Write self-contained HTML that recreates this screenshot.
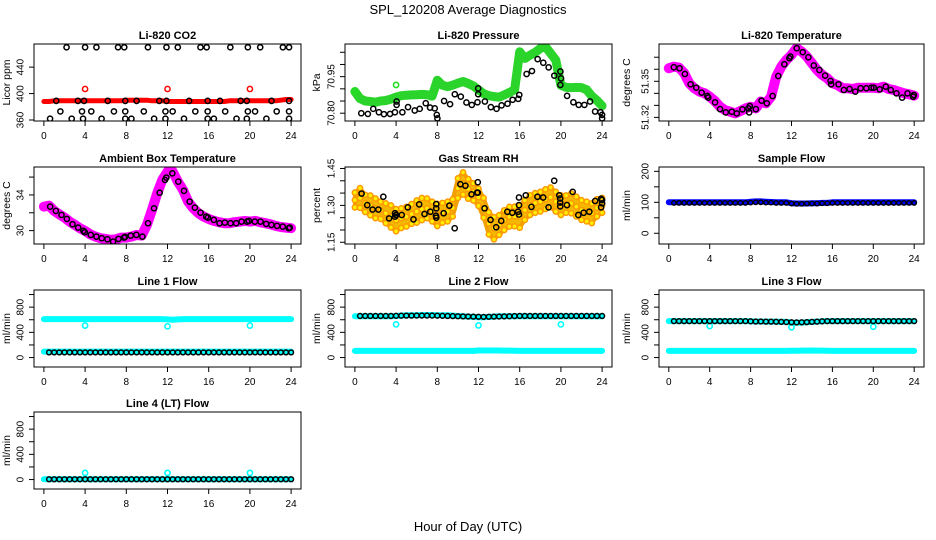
<!DOCTYPE html>
<html><head><meta charset="utf-8"><style>
html,body{margin:0;padding:0;background:#fff;width:936px;height:540px;overflow:hidden}
svg{display:block;font-family:"Liberation Sans",Arial,sans-serif}
</style></head><body>
<svg id="chart" width="936" height="540" viewBox="0 0 936 540">
<text x="468" y="14" text-anchor="middle" font-size="13">SPL_120208  Average Diagnostics</text>
<text x="468" y="531" text-anchor="middle" font-size="13">Hour of Day (UTC)</text>
</svg>
<script>
// ---------- shared categories ----------
const halfHours=[0,0.5,1,1.5,2,2.5,3,3.5,4,4.5,5,5.5,6,6.5,7,7.5,8,8.5,9,9.5,10,10.5,11,11.5,12,12.5,13,13.5,14,14.5,15,15.5,16,16.5,17,17.5,18,18.5,19,19.5,20,20.5,21,21.5,22,22.5,23,23.5,24];
const xTicks=[0,4,8,12,16,20,24];
const outlierHours=[4,12,20];
// ---------- CO2 ----------
const co2Red=[388,388,389,389,389,389,389,389,389,389,389,389,389,389,389,389,390,390,390,390,390,389,389,389,388,388,388,388,388,388,388,388,388,388,388,388,389,389,389,389,389,389,389,389,389,389,390,391,391];
const co2RedOut=[407,407,407];
const co2BlackHour=[2.2,4.0,5.1,7.2,7.8,10.1,11.9,13.0,15.2,15.8,18.1,19.8,21.0,23.2,23.8, 1.2,3.3,3.9,6.2,7.9,9.0,11.2,11.9,14.1,15.9,17.1,19.1,19.7,22.1,23.8, 1.6,3.7,4.6,6.8,7.9,9.7,11.8,12.5,14.7,15.9,17.6,19.8,20.5,22.6,23.8, 0.6,2.7,3.8,5.6,7.9,8.5,10.7,11.8,13.6,15.9,16.5,18.7,19.7,21.6,23.8];
const co2BlackVal=[470,470,470,470,470,470,470,470,470,470,470,470,470,470,470, 389,389,389,389,389,389,389,389,389,389,389,389,389,389,389, 373,373,373,373,373,373,373,373,373,373,373,373,373,373,373, 362,362,362,362,362,362,362,362,362,362,362,362,362,362,362];
// ---------- Pressure ----------
const presGreen=[70.889,70.860,70.850,70.848,70.845,70.850,70.852,70.858,70.866,70.872,70.874,70.875,70.876,70.877,70.876,70.870,70.935,70.915,70.909,70.915,70.923,70.930,70.922,70.912,70.896,70.880,70.872,70.868,70.866,70.875,70.885,70.896,71.052,71.025,71.038,71.050,71.066,71.073,71.046,71.018,70.915,70.906,70.905,70.906,70.905,70.896,70.870,70.852,70.830];
const presGreenOut=[70.916];
const presBlackHour=[0.62,1.26,1.78,2.33,2.82,3.41,3.89,4.05,4.05,4.61,5.16,5.81,6.29,6.88,7.30,7.75,7.95,8.01,8.66,9.24,9.70,10.28,10.83,11.35,11.90,11.97,11.97,12.62,13.20,13.75,14.24,14.82,15.31,15.86,15.96,16.67,17.19,17.74,18.29,18.81,19.36,19.95,19.95,20.01,20.60,21.21,21.73,22.28,22.83,23.32,23.84,24.0,24.0];
const presBlackVal=[70.800,70.797,70.818,70.804,70.796,70.797,70.804,70.834,70.848,70.804,70.825,70.811,70.818,70.841,70.823,70.820,70.793,70.779,70.850,70.837,70.878,70.868,70.844,70.834,70.845,70.878,70.902,70.848,70.825,70.818,70.832,70.839,70.855,70.859,70.875,70.961,70.973,71.022,71.007,70.988,70.954,70.971,70.916,70.943,70.871,70.845,70.834,70.834,70.848,70.807,70.804,70.779,70.793];
// ---------- Li-820 temperature ----------
const tempMag=[51.3608,51.3622,51.3614,51.3567,51.3483,51.3442,51.3414,51.3400,51.3372,51.3336,51.3289,51.3261,51.3247,51.3233,51.3253,51.3275,51.3289,51.3275,51.3331,51.3317,51.3372,51.3539,51.3622,51.3678,51.3719,51.3775,51.3747,51.3706,51.3650,51.3594,51.3553,51.3525,51.3483,51.3469,51.3442,51.3442,51.3436,51.3447,51.3447,51.3447,51.3447,51.3442,51.3456,51.3436,51.3428,51.3414,51.3400,51.3392,51.3381];
const tempBlackHour=[0.49,1.05,1.57,2.13,2.68,3.21,3.77,3.86,4.52,5.01,5.57,6.16,6.65,7.20,7.79,7.86,7.92,8.51,9.07,9.59,10.15,10.71,11.30,11.79,11.89,12.51,13.10,13.65,14.18,14.73,15.29,15.82,15.88,16.60,17.12,17.68,18.24,18.76,19.32,19.81,20.04,20.63,21.22,21.71,22.27,22.82,23.35,23.90,23.97];
const tempBlackVal=[51.3617,51.3608,51.3561,51.3475,51.3447,51.3406,51.3378,51.3364,51.3325,51.3269,51.3242,51.3247,51.3233,51.3267,51.3275,51.3242,51.3294,51.3269,51.3339,51.3317,51.3378,51.3544,51.3642,51.3692,51.3706,51.3775,51.3742,51.3700,51.3631,51.3594,51.3547,51.3503,51.3475,51.3475,51.3428,51.3436,51.3414,51.3442,51.3442,51.3447,51.3447,51.3433,51.3456,51.3428,51.3400,51.3364,51.3400,51.3372,51.3386];
// ---------- Ambient box temperature ----------
const ambMag=[32.69,32.80,32.21,31.83,31.46,31.01,30.64,30.27,29.97,29.59,29.33,29.15,29.07,28.96,29.03,29.22,29.22,29.33,29.52,29.44,30.64,32.32,34.18,35.68,36.61,36.61,35.49,34.56,33.25,32.50,31.95,31.57,31.31,31.09,30.94,30.83,30.83,30.94,31.01,31.09,31.01,31.09,30.94,30.83,30.71,30.53,30.41,30.34,30.27];
const ambBlackHour=[0.61,1.16,1.71,2.23,2.78,3.33,3.84,3.97,4.55,5.10,5.62,6.17,6.72,7.24,7.78,7.88,8.43,8.98,9.56,10.11,10.69,11.24,11.76,11.89,12.47,13.05,13.60,14.15,14.66,15.21,15.76,15.92,16.50,17.05,17.57,18.12,18.67,19.19,19.73,19.90,20.48,21.03,21.58,22.09,22.64,23.19,23.77,23.87];
const ambBlackVal=[32.69,32.21,31.76,31.31,30.71,30.34,29.97,29.82,29.52,29.33,29.15,29.03,28.77,29.07,29.22,29.30,29.44,29.52,29.33,30.83,32.50,34.25,35.68,35.94,36.42,35.49,34.45,33.25,32.58,32.02,31.57,31.46,31.20,30.83,30.90,30.83,30.83,31.01,31.01,31.09,31.01,31.01,30.75,30.64,30.53,30.45,30.27,30.34];
// ---------- Gas stream RH ----------
const rhMid=[1.322,1.330,1.308,1.300,1.288,1.280,1.268,1.255,1.240,1.248,1.254,1.265,1.275,1.285,1.288,1.275,1.261,1.270,1.275,1.290,1.370,1.389,1.367,1.355,1.333,1.290,1.227,1.207,1.220,1.240,1.254,1.255,1.254,1.281,1.301,1.310,1.315,1.325,1.333,1.315,1.301,1.305,1.308,1.295,1.281,1.275,1.268,1.290,1.300];
const rhSpread=[0.03,0.04,0.035,0.04,0.04,0.035,0.04,0.045,0.045,0.04,0.04,0.04,0.045,0.045,0.04,0.04,0.045,0.04,0.04,0.035,0.04,0.045,0.04,0.035,0.035,0.04,0.045,0.045,0.04,0.04,0.04,0.04,0.045,0.04,0.04,0.04,0.04,0.04,0.04,0.04,0.04,0.035,0.04,0.04,0.04,0.04,0.04,0.035,0.03];
const rhBlackHour=[0.65,1.20,1.72,2.28,2.76,3.32,3.90,3.90,4.0,4.55,5.14,5.69,6.24,6.76,7.32,7.87,7.90,7.90,7.90,8.62,9.17,9.69,10.24,10.73,11.32,11.87,11.93,11.93,12.59,13.17,13.72,14.21,14.80,15.28,15.84,15.93,15.93,15.93,16.59,17.14,17.72,18.28,18.80,19.35,19.84,19.93,19.93,19.93,20.59,21.14,21.69,22.21,22.76,23.32,23.90,23.90,24.0,24.0];
const rhBlackVal=[1.348,1.301,1.283,1.283,1.335,1.247,1.268,1.254,1.261,1.261,1.292,1.243,1.304,1.265,1.274,1.258,1.288,1.305,1.250,1.268,1.299,1.207,1.386,1.380,1.345,1.352,1.394,1.352,1.288,1.241,1.211,1.237,1.274,1.270,1.274,1.301,1.332,1.263,1.341,1.294,1.335,1.332,1.292,1.400,1.341,1.328,1.311,1.296,1.301,1.355,1.261,1.270,1.274,1.318,1.327,1.292,1.322,1.308];
// ---------- Sample flow ----------
const sampleBlue=[100,100,100,100,100,100,100,100,100,100,100,100,100,100,100,100,102,103,103,102,101,100,100,100,97,96,96,96,97,97,98,98,100,100,100,100,100,100,100,100,100,100,100,100,100,100,100,100,100];
const sampleBlack=[98,98,98,98,98,98,98,98,98,98,98,98,98,98,98,98,99,100,100,99,99,98,98,98,96,95,95,96,96,96,97,97,98,98,98,98,98,98,98,98,98,98,98,98,98,98,98,98,98];
// ---------- Line flows ----------
const l1CyanHigh=[610,610,610,610,610,610,610,610,610,610,610,610,610,610,610,610,610,610,610,610,610,610,610,610,605,600,605,610,610,610,610,610,610,610,610,610,610,610,610,610,610,610,610,610,610,610,610,610,610];
const l1CyanLow=[95,95,95,95,95,95,95,95,95,95,95,95,95,95,95,95,95,95,95,95,95,95,95,95,95,95,95,95,95,95,95,95,95,95,95,95,95,95,95,95,95,95,95,95,95,95,95,95,95];
const l1Black=[82,82,82,82,82,82,82,82,82,82,82,82,82,82,82,82,82,82,82,82,82,82,82,82,82,82,82,82,82,82,82,82,82,82,82,82,82,82,82,82,82,82,82,82,82,82,82,82,82];
const l1Out=[508,495,508];
const l2CyanHigh=[655,655,655,655,655,655,655,655,660,665,670,670,672,675,675,675,672,672,670,665,660,655,650,645,640,640,645,650,655,655,655,655,655,655,655,655,655,655,655,655,655,655,655,655,655,655,655,655,655];
const l2CyanLow=[105,105,105,105,105,105,105,105,105,105,105,105,105,105,105,105,105,105,105,105,105,105,105,105,112,112,112,112,112,110,110,108,105,105,105,105,105,105,105,105,105,105,105,105,105,105,105,105,105];
const l2Black=[660,660,660,660,660,660,660,660,662,664,665,665,666,666,666,666,664,662,660,658,656,654,652,650,648,646,648,650,652,654,656,658,660,660,660,660,660,660,660,660,660,660,660,660,660,660,660,660,660];
const l2Out=[526,510,526];
const l3CyanHigh=[578,578,578,578,578,578,578,578,578,578,578,578,578,578,578,578,575,572,572,570,570,570,568,565,555,552,555,560,565,570,575,578,578,578,578,578,578,578,578,578,578,578,578,578,578,578,578,578,578];
const l3CyanLow=[105,105,105,105,105,105,105,105,105,105,105,105,105,105,105,105,105,105,105,105,105,105,105,105,108,108,110,110,112,110,110,108,105,105,105,105,105,105,105,105,105,105,105,105,105,105,105,105,105];
const l3Black=[578,578,578,578,578,578,578,578,578,578,578,578,578,578,578,578,575,572,572,570,570,568,566,563,560,558,560,562,566,570,575,578,578,578,578,578,578,578,578,578,578,578,578,578,578,578,578,578,578];
const l3Out=[500,480,490];
const l4Cyan=[5,5,5,5,5,5,5,5,5,5,5,5,5,5,5,5,5,5,5,5,5,5,5,5,5,5,5,5,5,5,5,5,5,5,5,5,5,5,5,5,5,5,5,5,5,5,5,5,5];
const l4Black=[5,5,5,5,5,5,5,5,5,5,5,5,5,5,5,5,5,5,5,5,5,5,5,5,5,5,5,5,5,5,5,5,5,5,5,5,5,5,5,5,5,5,5,5,5,5,5,5,5];
const l4Out=[105,105,105];

const NS='http://www.w3.org/2000/svg';
const svg=document.getElementById('chart');
function mk(tag,attrs,parent){const e=document.createElementNS(NS,tag);for(const k in attrs)e.setAttribute(k,attrs[k]);(parent||svg).appendChild(e);return e;}

function makePanel(p){
  const g=mk('g',{});
  
  
  const X0=-0.96,X1=24.96;
  const x=h=>p.L+(h-X0)/(X1-X0)*(p.R-p.L);
  const y=v=>p.B-(v-p.y0)/(p.y1-p.y0)*(p.B-p.T);
  const clip='clip-'+p.name;
  const cp=mk('clipPath',{id:clip},g);mk('rect',{x:p.L,y:p.T,width:p.R-p.L,height:p.B-p.T},cp);
  const data=mk('g',{'clip-path':'url(#'+clip+')'},g);
  
  
  const box=mk('rect',{x:p.L,y:p.T,width:p.R-p.L,height:p.B-p.T,fill:'none',stroke:'#000','stroke-width':1},g);
  
  
  const t=mk('text',{x:(p.L+p.R)/2,y:p.T-5,'text-anchor':'middle','font-size':11,'font-weight':'bold'},g);
  t.textContent=p.title;
  
  
  xTicks.forEach(h=>{
    const l=mk('line',{x1:x(h),x2:x(h),y1:p.B,y2:p.B+5,stroke:'#000'},g);
    
    
    const tx=mk('text',{x:x(h),y:p.B+18,'text-anchor':'middle','font-size':10},g);
    tx.textContent=h;
    
    
  });
  p.yticks.forEach(v=>{
    const l=mk('line',{x1:p.L-5,x2:p.L,y1:y(v),y2:y(v),stroke:'#000'},g);
    
    
  });
  p.ylabels.forEach(s=>{
    const v=parseFloat(s);
    const tx=mk('text',{x:0,y:0,'text-anchor':'middle','font-size':10,transform:'translate('+(p.L-10.5)+','+y(v)+') rotate(-90)'},g);
    tx.textContent=s;
    
    
  });
  const yt=mk('text',{x:0,y:0,'text-anchor':'middle','font-size':10.5,transform:'translate('+(p.L-p.tOff)+','+((p.T+p.B)/2)+') rotate(-90)'},g);
  yt.textContent=p.ytitle;
  
  
  return {x,y,g:data};
}
function band(P,hours,vals,color,w,name){
  let d='';
  for(let i=0;i<vals.length;i++)d+=(i?'L':'M')+P.x(hours[i]).toFixed(1)+','+P.y(vals[i]).toFixed(1);
  const b=mk('path',{d:d,fill:'none',stroke:color,'stroke-width':w,'stroke-linecap':'round','stroke-linejoin':'round'},P.g);
  
  
}
function pts(P,hours,vals,st,name){
  const grp=mk('g',{},P.g);
  
  
  for(let i=0;i<vals.length;i++){
    const c=mk('circle',{cx:P.x(hours[i]),cy:P.y(vals[i]),r:st.r,fill:st.fill||'none',stroke:st.stroke,'stroke-width':st.sw},grp);
    
    
  }
}
const BLK={r:2.6,stroke:'#000',sw:1.5};
const cols=[{L:34,R:301,tOff:24},{L:345,R:612,tOff:25},{L:659,R:924,tOff:29}];
const rows=[{T:44,B:121},{T:167,B:244},{T:290,B:367},{T:412,B:489}];
const flowTicks=[0,200,400,600,800,1000],flowLabels=['0','400','800'];
function cfg(c,r,o){return Object.assign({L:cols[c].L,R:cols[c].R,tOff:cols[c].tOff,T:rows[r].T,B:rows[r].B},o);}

// CO2
let P=makePanel(cfg(0,0,{name:'co2-panel',title:'Li-820 CO2',ytitle:'Licor ppm',y0:358.5,y1:475,yticks:[360,400,440],ylabels:['360','400','440']}));
band(P,halfHours,co2Red,'#ff0000',5,'co2-red-band');
pts(P,outlierHours,co2RedOut,{r:2.6,stroke:'#ff0000',sw:1.5},'co2-red-outlier');
pts(P,co2BlackHour,co2BlackVal,BLK,'co2-black-series');
// Pressure
P=makePanel(cfg(1,0,{name:'pressure-panel',title:'Li-820 Pressure',ytitle:'kPa',y0:70.768,y1:71.084,yticks:[70.80,70.85,70.90,70.95,71.00,71.05],ylabels:['70.80','70.95']}));
band(P,halfHours,presGreen,'#2ad42a',9,'pressure-green-band');
pts(P,[4],presGreenOut,{r:2.6,stroke:'#22e022',sw:1.6},'pressure-green-outlier');
pts(P,[0],[presGreen[0]],{r:2.6,stroke:'#22e022',sw:1.6},'pressure-green-start');
pts(P,presBlackHour,presBlackVal,BLK,'pressure-black-series');
// Li temp
P=makePanel(cfg(2,0,{name:'li-temp-panel',title:'Li-820 Temperature',ytitle:'degrees C',y0:51.317,y1:51.381,yticks:[51.32,51.33,51.34,51.35,51.36,51.37],ylabels:['51.32','51.35']}));
band(P,halfHours,tempMag,'#ff00ff',10,'li-temp-magenta-band');
pts(P,tempBlackHour,tempBlackVal,BLK,'li-temp-black-series');
// Ambient
P=makePanel(cfg(0,1,{name:'ambient-temp-panel',title:'Ambient Box Temperature',ytitle:'degrees C',y0:28.5,y1:37.13,yticks:[30,32,34,36],ylabels:['30','34']}));
band(P,halfHours,ambMag,'#ff00ff',10,'ambient-magenta-band');
pts(P,ambBlackHour,ambBlackVal,BLK,'ambient-black-series');
// RH
P=makePanel(cfg(1,1,{name:'rh-panel',title:'Gas Stream RH',ytitle:'percent',y0:1.143,y1:1.456,yticks:[1.15,1.20,1.25,1.30,1.35,1.40,1.45],ylabels:['1.15','1.30','1.45']}));
(function(){
  let d='';
  halfHours.forEach((h,i)=>{d+=(i?'L':'M')+P.x(h)+','+P.y(rhMid[i]+rhSpread[i]);});
  for(let i=halfHours.length-1;i>=0;i--)d+='L'+P.x(halfHours[i])+','+P.y(rhMid[i]-rhSpread[i]);
  const bd=mk('path',{d:d+'Z',fill:'#f5b800',stroke:'#f0a000','stroke-width':4,'stroke-linejoin':'round'},P.g);
  
  
})();
pts(P,halfHours,rhMid.map((v,i)=>v+rhSpread[i]),{r:2.6,stroke:'#ff9900',sw:1.5,fill:'#ffee00'},'rh-orange-upper');
pts(P,halfHours,rhMid.map((v,i)=>v-rhSpread[i]),{r:2.6,stroke:'#ff9900',sw:1.5,fill:'#ffee00'},'rh-orange-lower');
pts(P,halfHours,rhMid,{r:2.6,stroke:'#ff9900',sw:1.5,fill:'#ffee00'},'rh-orange-mid');
pts(P,rhBlackHour,rhBlackVal,BLK,'rh-black-series');
// Sample flow
P=makePanel(cfg(2,1,{name:'sample-flow-panel',title:'Sample Flow',ytitle:'ml/min',y0:-34.6,y1:214,yticks:[0,50,100,150,200],ylabels:['0','100','200']}));
band(P,halfHours,sampleBlue,'#0000ff',6,'sample-blue-band');
pts(P,halfHours.slice(1),sampleBlack.slice(1),{r:2.2,stroke:'#000',sw:1.4},'sample-black-series');
// Line flows
function flowPanel(c,r,name,title,hi,lo,blk,out){
  const Q=makePanel(cfg(c,r,{name:name,title:title,ytitle:'ml/min',y0:-150,y1:1072,yticks:flowTicks,ylabels:flowLabels}));
  if(hi)band(Q,halfHours,hi,'#00ffff',6,name+'-cyan-high');
  band(Q,halfHours,lo,'#00ffff',6,name+'-cyan-low');
  pts(Q,outlierHours,out,{r:2.6,stroke:'#00ffff',sw:1.6},name+'-cyan-outlier');
  pts(Q,halfHours.slice(1),blk.slice(1),{r:2.4,stroke:'#000',sw:1.5},name+'-black-series');
}
flowPanel(0,2,'line1-flow-panel','Line 1 Flow',l1CyanHigh,l1CyanLow,l1Black,l1Out);
flowPanel(1,2,'line2-flow-panel','Line 2 Flow',l2CyanHigh,l2CyanLow,l2Black,l2Out);
flowPanel(2,2,'line3-flow-panel','Line 3 Flow',l3CyanHigh,l3CyanLow,l3Black,l3Out);
flowPanel(0,3,'line4-flow-panel','Line 4 (LT) Flow',null,l4Cyan,l4Black,l4Out);
</script>
</body></html>
